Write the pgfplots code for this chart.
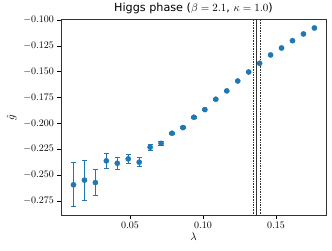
\documentclass[border=0pt]{standalone}
\usepackage{fontspec}
\setmainfont{DejaVu Sans}
\usepackage{pgfplots}
\usepackage{pgfplotstable}
\pgfplotsset{compat=1.18}
\definecolor{tabblue}{HTML}{1F77B4}
\pgfplotstableread{
x y err
0.01125 -0.2595 0.0212
0.01875 -0.2550 0.0192
0.02625 -0.2573 0.0125
0.03375 -0.2363 0.0071
0.04125 -0.2386 0.0057
0.04875 -0.2344 0.0045
0.05625 -0.2376 0.0042
0.06375 -0.2231 0.0030
0.07125 -0.2194 0.0020
0.07875 -0.2096 0.0012
0.08625 -0.2041 0.0010
0.09375 -0.1941 0.0008
0.10125 -0.1867 0.0008
0.10875 -0.1767 0.0007
0.11625 -0.1686 0.0006
0.12375 -0.1590 0.0006
0.13125 -0.1503 0.0006
0.13875 -0.1419 0.0005
0.14625 -0.1338 0.0005
0.15375 -0.1271 0.0005
0.16125 -0.1200 0.0005
0.16875 -0.1135 0.0005
0.17625 -0.1077 0.0005
}\datatable
\begin{document}
\begin{tikzpicture}
\begin{axis}[
  name=ax,
  scale only axis,
  width=265pt, height=196pt,
  xmin=0.0027, xmax=0.1842,
  ymin=-0.2892, ymax=-0.0995,
  xtick={0.05,0.10,0.15},
  ytick={-0.275,-0.25,-0.225,-0.2,-0.175,-0.15,-0.125,-0.1},
  xticklabel style={/pgf/number format/.cd, fixed, fixed zerofill, precision=2},
  yticklabel style={/pgf/number format/.cd, fixed, fixed zerofill, precision=3},
  scaled x ticks=false, scaled y ticks=false,
  tick align=outside, tick pos=left,
  major tick length=3.5pt,
  every tick/.style={black, line width=0.6pt},
  axis line style={line width=0.8pt, black!80},
  tick label style={font=\fontsize{10}{12}\selectfont},
  xlabel={$\lambda$}, ylabel={$\hat{g}$},
  label style={font=\fontsize{10.5}{12}\selectfont},
  xlabel style={yshift=3pt},
  ylabel style={yshift=0pt},
  title={Higgs phase ($\beta=2.1$, $\kappa=1.0$)},
  title style={font=\fontsize{11.2}{13}\selectfont, yshift=-4pt},
  clip=true,
]
\addplot[black!80, line width=0.6pt, dash pattern=on 1.6pt off 1pt] coordinates {(0.1345,-0.3) (0.1345,-0.09)};
\addplot[black!80, line width=0.8pt] coordinates {(0.1368,-0.3) (0.1368,-0.09)};
\addplot[black!80, line width=0.6pt, dash pattern=on 1.6pt off 1pt] coordinates {(0.1392,-0.3) (0.1392,-0.09)};
\addplot[only marks, mark=*, mark size=2.6pt, color=tabblue,
  mark options={fill=tabblue, draw=tabblue},
  error bars/.cd, y dir=both, y explicit,
  error bar style={line width=1pt, color=tabblue},
  error mark options={rotate=90, mark size=2.6pt, line width=0.9pt, color=tabblue}]
  table[x=x, y=y, y error=err] {\datatable};
\end{axis}
\pgfresetboundingbox
\path[use as bounding box] ([shift={(-61pt,-35.3pt)}]ax.south west) rectangle ([shift={(6pt,19.5pt)}]ax.north east);
\end{tikzpicture}
\end{document}
